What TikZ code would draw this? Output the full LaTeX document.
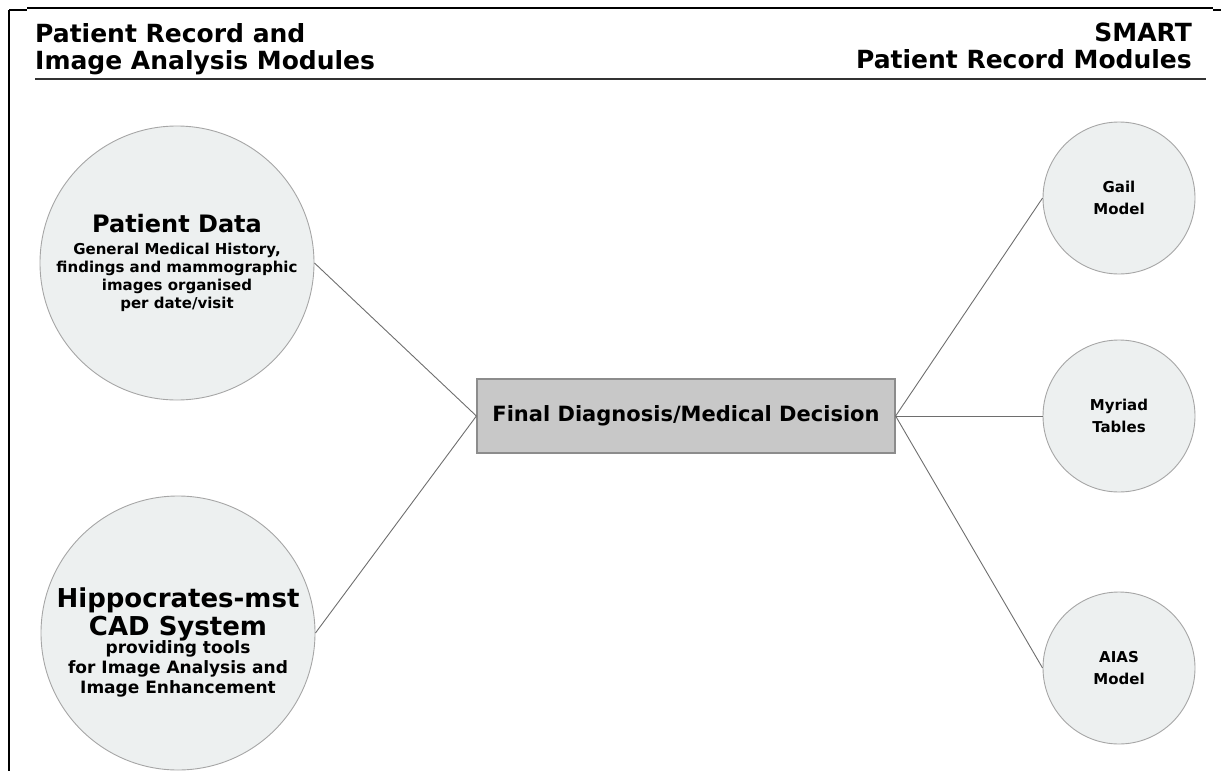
\documentclass[tikz,border=0pt]{standalone}
\usepackage{fontspec}
\setmainfont{DejaVu Sans}
\usetikzlibrary{positioning}
\definecolor{bubble}{HTML}{EDF0F0}
\definecolor{rim}{HTML}{A6A6A6}
\definecolor{boxfill}{HTML}{C8C8C8}
\definecolor{wire}{HTML}{6E6E6E}
\tikzset {
  every node/.style={font=\bfseries},
  module/.style={circle,draw=rim,fill=bubble,line width=0.9pt,inner sep=0pt,align=center},
  bigmod/.style={module,minimum size=274pt},
  smallmod/.style={module,minimum size=152pt,font=\fontsize{15}{22}\selectfont\bfseries},
  decision/.style={rectangle,draw=black!45,fill=boxfill,line width=1.2pt,
    minimum width=418pt,minimum height=74pt,font=\fontsize{21}{24}\selectfont\bfseries},
  heading/.style={inner sep=0pt,font=\fontsize{25}{27}\selectfont\bfseries},
  link/.style={draw=wire,line width=0.9pt},
}

\begin{document}
\begin{tikzpicture}[x=1pt,y=-1pt]
  \useasboundingbox (0,0) rectangle (1221,771);
  % frame and headings
  \draw[line width=2pt] (9,10) -- (27,10) (9,10) -- (9,771);
  \draw[line width=1.2pt] (27,8) -- (1213,8);
  \draw[line width=2pt] (1213,10) -- (1221,10);
  \node (lefthead) [heading,align=left,anchor=north west] at (35,23)
    {Patient Record and\\Image Analysis Modules};
  \node (righthead) [heading,align=right,anchor=north east] at (1192,23)
    {SMART\\Patient Record Modules};
  \draw[black!80,line width=1.5pt] (35,79) -- (1206,79);
  % modules
  \node (pd) [bigmod,font=\fontsize{15}{18}\selectfont\bfseries] at (177,263)
    {{\fontsize{24}{26}\selectfont Patient Data}\\[4pt]
     General Medical History,\\findings and mammographic\\images organised\\per date/visit};
  \node (hc) [bigmod,font=\fontsize{17}{20}\selectfont\bfseries] at (178,633)
    {\rule{0pt}{38pt}{\fontsize{26}{27}\selectfont Hippocrates-mst}\\[2pt]
     {\fontsize{26}{27}\selectfont CAD System}\\[-2pt]
     providing tools\\for Image Analysis and\\Image Enhancement};
  \node (fd) [decision] at (686,416) {Final Diagnosis/Medical Decision};
  \node (gail) [smallmod] at (1119,198) {Gail\\Model};
  \node (myr) [smallmod] at (1119,416) {Myriad\\Tables};
  \node (aias) [smallmod] at (1119,668) {AIAS\\Model};
  % connectors
  \draw[link] (pd.east) -- (fd.west);
  \draw[link] (hc.east) -- (fd.west);
  \draw[link] (fd.east) -- (gail.west);
  \draw[link] (fd.east) -- (myr.west);
  \draw[link] (fd.east) -- (aias.west);
\end{tikzpicture}
\end{document}
